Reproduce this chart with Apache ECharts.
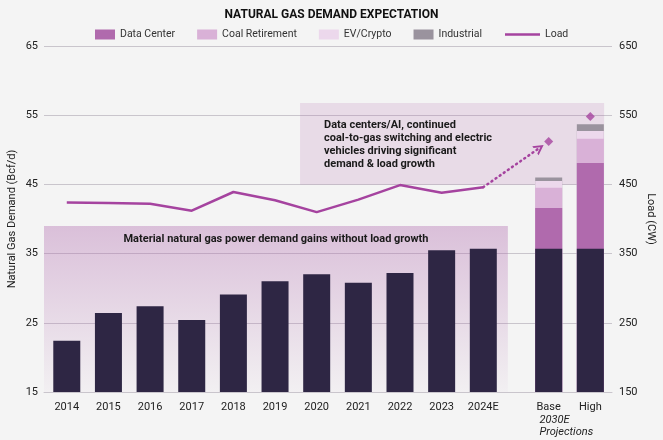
<!DOCTYPE html>
<html><head><meta charset="utf-8">
<script src="https://cdn.jsdelivr.net/npm/echarts@6/dist/echarts.min.js"></script>
<style>html,body{margin:0;padding:0;background:#f4f4f4}#c{width:663px;height:440px}</style>
</head><body><div id="c"></div>
<script>
// ---- data ----
const years = ['2014','2015','2016','2017','2018','2019','2020','2021','2022','2023','2024E'];
const projLabels = ['Base','High'];
const historicalDemand = [22.4, 26.4, 27.4, 25.4, 29.1, 31.0, 32.0, 30.8, 32.2, 35.5, 35.7];
const baselineDemand2030 = [35.7, 35.7];
const dataCenter = [5.9, 12.4];
const coalRetirement = [2.9, 3.5];
const evCrypto = [1.0, 1.1];
const industrial = [0.5, 1.0];
const loadHistorical = [424, 423, 422, 412, 439, 427, 410, 428, 449, 438, 446];
const loadProjected = [512, 548];
const leftTicks = [15, 65, 10];   // min, max, interval
const rightTicks = [150, 650, 100];

// ---- layout ----
const FONT = 'Roboto';
const X_MIN = -0.547, X_MAX = 13.09;
const projOffset = 1.57;          // gap between 2024E and Base (in slot units)
const xPos = years.map((_, i) => i);
const projPos = projLabels.map((_, i) => years.length - 1 + projOffset + i);
const allPos = xPos.concat(projPos);
const allLabels = years.concat(projLabels);
const nHist = years.length;

// cumulative tops for the projection stack (drawn as overlapping bars)
const cum = (arrs) => projLabels.map((_, i) => arrs.reduce((s, a) => s + a[i], 0));
const topDC = cum([baselineDemand2030, dataCenter]);
const topCoal = cum([baselineDemand2030, dataCenter, coalRetirement]);
const topEV = cum([baselineDemand2030, dataCenter, coalRetirement, evCrypto]);
const topInd = cum([baselineDemand2030, dataCenter, coalRetirement, evCrypto, industrial]);
const projData = (vals) => projPos.map((x, i) => [x, vals[i]]);

const C = {
  dark: '#2e2644', dc: '#b06aad', coal: '#d9b1d7', ev: '#ecd8ec', ind: '#9a939e', load: '#a5439f'
};

// arrow from last historical load point toward base projection
const lastX = xPos[nHist - 1], lastY = loadHistorical[nHist - 1];
const f = 0.86;
const arrowEnd = [lastX + (projPos[0] - lastX) * f, lastY + (loadProjected[0] - lastY) * f];

const BW = 27;
const chart = echarts.init(document.getElementById('c'));
chart.setOption({
  backgroundColor: '#f4f4f4',
  textStyle: { fontFamily: FONT },
  title: {
    text: 'NATURAL GAS DEMAND EXPECTATION', left: 'center', top: 4,
    textStyle: { fontFamily: FONT, fontSize: 12, fontWeight: 'bold', color: '#111' }
  },
  legend: [{
    data: ['Data Center', 'Coal Retirement', 'EV/Crypto', 'Industrial'],
    left: 90, top: 24, itemWidth: 20, itemHeight: 10, itemGap: 22, icon: 'rect',
    textStyle: { fontFamily: FONT, fontSize: 10.5, color: '#333' }
  }, {
    data: [{ name: 'Load', icon: 'rect' }], left: 500, top: 24, itemWidth: 35, itemHeight: 2.5,
    textStyle: { fontFamily: FONT, fontSize: 10.5, color: '#333' }
  }],
  grid: { left: 44, right: 51, top: 46, bottom: 48, outerBoundsMode: 'none', containLabel: false },
  xAxis: {
    type: 'value', min: X_MIN, max: X_MAX,
    splitLine: { show: false },
    axisLine: { show: true, lineStyle: { color: '#c9c5cc' } },
    axisTick: { show: false },
    axisLabel: {
      customValues: allPos, margin: 10, fontSize: 11, color: '#222', fontFamily: FONT,
      formatter: v => {
        let best = 0, d = 1e9;
        allPos.forEach((p, i) => { if (Math.abs(p - v) < d) { d = Math.abs(p - v); best = i; } });
        return allLabels[best];
      }
    }
  },
  yAxis: [{
    type: 'value', min: leftTicks[0], max: leftTicks[1], interval: leftTicks[2],
    name: 'Natural Gas Demand (Bcf/d)', nameLocation: 'middle', nameGap: 26, nameMoveOverlap: false,
    nameTextStyle: { fontFamily: FONT, fontSize: 11, color: '#222' },
    axisLine: { show: false }, axisTick: { show: false },
    axisLabel: { fontSize: 11, color: '#222', margin: 6, fontFamily: FONT },
    splitLine: { lineStyle: { color: '#c9c5cc' } }
  }, {
    type: 'value', min: rightTicks[0], max: rightTicks[1], interval: rightTicks[2],
    name: 'Load (CW)', nameLocation: 'middle', nameGap: 33, nameRotate: -90, nameMoveOverlap: false,
    nameTextStyle: { fontFamily: FONT, fontSize: 11, color: '#222' },
    axisLine: { show: false }, axisTick: { show: false },
    axisLabel: { fontSize: 11, color: '#222', margin: 7, fontFamily: FONT },
    splitLine: { show: false }
  }],
  series: [{
    name: 'Industrial', type: 'bar', barWidth: BW, barGap: '-100%',
    itemStyle: { color: C.ind }, data: projData(topInd)
  }, {
    name: 'EV/Crypto', type: 'bar', barWidth: BW, barGap: '-100%',
    itemStyle: { color: C.ev }, data: projData(topEV)
  }, {
    name: 'Coal Retirement', type: 'bar', barWidth: BW, barGap: '-100%',
    itemStyle: { color: C.coal }, data: projData(topCoal)
  }, {
    name: 'Data Center', type: 'bar', barWidth: BW, barGap: '-100%',
    itemStyle: { color: C.dc }, data: projData(topDC)
  }, {
    name: 'Demand', type: 'bar', barWidth: BW, barGap: '-100%',
    itemStyle: { color: C.dark },
    data: xPos.map((x, i) => [x, historicalDemand[i]]).concat(projData(baselineDemand2030)),
    markArea: {
      silent: true,
      data: [
        [{
          xAxis: X_MIN, yAxis: 39.0,
          itemStyle: {
            color: { type: 'linear', x: 0, y: 0, x2: 0, y2: 1, colorStops: [
              { offset: 0, color: 'rgba(176,106,174,0.38)' },
              { offset: 1, color: 'rgba(176,106,174,0.03)' }] }
          },
          label: {
            show: true, position: 'insideTop', distance: 8,
            formatter: 'Material natural gas power demand gains without load growth',
            fontFamily: FONT, fontSize: 11, fontWeight: 'bold', color: '#1a1a1a'
          }
        }, { xAxis: 10.59, yAxis: 15 }],
        [{
          xAxis: 5.6, yAxis: 56.76,
          itemStyle: { color: 'rgba(176,106,174,0.18)' },
          label: {
            show: true, position: 'insideTopLeft', distance: 5, padding: [11, 0, 0, 19],
            formatter: 'Data centers/AI, continued\ncoal-to-gas switching and electric\nvehicles driving significant\ndemand & load growth',
            fontFamily: FONT, fontSize: 11, fontWeight: 'bold', color: '#1a1a1a', lineHeight: 13, align: 'left'
          }
        }, { xAxis: 12.9, yAxis: 45 }]
      ]
    }
  }, {
    name: 'Load', type: 'line', yAxisIndex: 1, symbol: 'none', z: 4,
    lineStyle: { color: C.load, width: 2.5 }, itemStyle: { color: C.load },
    data: xPos.map((x, i) => [x, loadHistorical[i]]),
    markLine: {
      silent: true, symbol: ['none', 'path://M0,10 L5,0 L10,10 L8,10 L5,4 L2,10 Z'], symbolSize: [11, 10],
      lineStyle: { color: C.load, width: 2.5, type: [1, 4], cap: 'round' },
      label: { show: false },
      data: [[{ coord: [lastX, lastY] }, { coord: arrowEnd }]]
    }
  }, {
    name: 'Load 2030E', type: 'scatter', yAxisIndex: 1, symbol: 'diamond', symbolSize: 9, z: 5,
    itemStyle: { color: C.load },
    data: projPos.map((x, i) => [x, loadProjected[i]])
  }],
  graphic: [{
    type: 'text', left: 569.5 - 30, top: 414,
    style: { text: '2030E\nProjections', width: 60, align: 'center', font: 'italic 11px Roboto', fill: '#222', lineHeight: 12 }
  }]
});
</script></body></html>
